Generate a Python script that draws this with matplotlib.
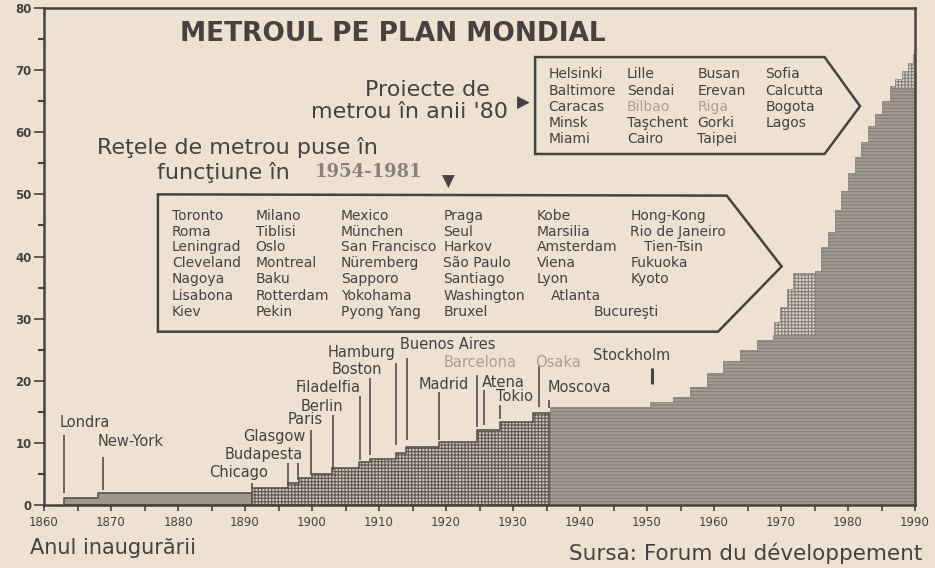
import numpy as np
import matplotlib
matplotlib.use('Agg')
import matplotlib.pyplot as plt
from matplotlib.patches import Polygon

# cumulative number of metro networks
band_years = [1863, 1868, 1891]
band_vals = [1.2, 2.0, 2.0]

early_years = [1891, 1896.4, 1898, 1900, 1903, 1907, 1908.6, 1912.6, 1914, 1919,
               1924.7, 1928, 1933, 1935.5]
early_vals = [2.7, 3.5, 4.4, 5.0, 6.0, 6.9, 7.4, 8.4, 9.4, 10.2,
              12.1, 13.4, 14.8, 14.8]

late_years = [1935.5, 1950.5, 1953.9, 1956.4, 1959, 1961.3, 1963.9, 1966.4, 1968.8,
              1975, 1976, 1977, 1978, 1979, 1980, 1981, 1982, 1983, 1984, 1985,
              1986.2, 1990]
late_vals = [15.7, 16.6, 17.4, 19.0, 21.3, 23.1, 25.0, 26.6, 27.4,
             37.6, 41.5, 44.0, 47.5, 50.5, 53.5, 56.0, 58.5, 61.0, 63.0, 65.0,
             66.9, 66.9]

# dotted parts above the grey area
plan_a_years = [1969, 1969.8, 1970.9, 1971.8, 1975]
plan_a_vals = [29.5, 31.9, 34.7, 37.4, 37.4]
plan_b_years = [1986.2, 1987, 1988, 1989, 1989.7, 1990]
plan_b_vals = [67.5, 68.5, 69.8, 71.2, 72.6, 72.6]

# labelled openings: name, year of pointer line, line bottom, line top
open_names = ['Londra', 'New-York', 'Chicago', 'Budapesta', 'Glasgow', 'Paris', 'Berlin',
              'Filadelfia', 'Boston', 'Hamburg', 'Buenos Aires', 'Madrid', 'Barcelona',
              'Atena', 'Tokio', 'Osaka', 'Moscova', 'Stockholm']
open_years = [1863, 1868.8, 1891.1, 1896.4, 1897.9, 1899.9, 1903.1, 1907.1, 1908.6,
              1912.6, 1914.2, 1919, 1924.7, 1925.6, 1928.1, 1933.9, 1935.4, 1950.8]
line_lo = [1.9, 2.4, 2.7, 3.2, 4.0, 4.8, 5.6, 7.3, 8.1, 9.7, 10.5, 10.5, 12.6, 12.9,
           13.9, 15.8, 15.6, 19.4]
line_hi = [11.3, 7.7, 3.5, 6.8, 6.8, 12.1, 14.5, 17.6, 20.5, 22.9, 23.7, 18.2, 21.0,
           18.5, 16.1, 22.3, 16.9, 22.1]

proj_cols = [['Helsinki', 'Baltimore', 'Caracas', 'Minsk', 'Miami'],
             ['Lille', 'Sendai', 'Bilbao', 'Taşchent', 'Cairo'],
             ['Busan', 'Erevan', 'Riga', 'Gorki', 'Taipei'],
             ['Sofia', 'Calcutta', 'Bogota', 'Lagos', '']]

open_cols = [['Toronto', 'Roma', 'Leningrad', 'Cleveland', 'Nagoya', 'Lisabona', 'Kiev'],
             ['Milano', 'Tiblisi', 'Oslo', 'Montreal', 'Baku', 'Rotterdam', 'Pekin'],
             ['Mexico', 'München', 'San Francisco', 'Nüremberg', 'Sapporo', 'Yokohama', 'Pyong Yang'],
             ['Praga', 'Seul', 'Harkov', 'São Paulo', 'Santiago', 'Washington', 'Bruxel'],
             ['Kobe', 'Marsilia', 'Amsterdam', 'Viena', 'Lyon', 'Atlanta', ''],
             ['Hong-Kong', 'Rio de Janeiro', 'Tien-Tsin', 'Fukuoka', 'Kyoto', '', 'Bucureşti']]

paper = '#ece1d2'
ink = '#48413c'
faded = '#a99d91'

plt.rcParams['font.family'] = ['DejaVu Sans']
plt.rcParams['hatch.linewidth'] = 0.8

fig = plt.figure(figsize=(9.35, 5.68), dpi=100, facecolor=paper)
ax = fig.add_axes([44/935, 63/568, 871/935, 497/568])
ax.set_facecolor(paper)
ax.set_xlim(1860, 1990)
ax.set_ylim(0, 80)

# filled areas
ax.fill_between(band_years, 0, band_vals, step='post', facecolor='#a0968c',
                edgecolor='#5a524c', lw=1.2)
ax.fill_between(early_years, 0, early_vals, step='post', facecolor='#cfc5b9',
                edgecolor='#5e5650', hatch='+++++', lw=1.2)
ax.fill_between(late_years, 0, late_vals, step='post', facecolor='#a39a91',
                edgecolor='#857c74', hatch='-----', lw=0.5)


def grey_top(yrs):
    idx = np.searchsorted(late_years, yrs, side='right') - 1
    return np.asarray(late_vals)[idx]


ax.fill_between(plan_a_years, grey_top(plan_a_years), plan_a_vals, step='post',
                facecolor='#ddd4c9', edgecolor='#857d75', hatch='+++++', lw=0.5)
ax.fill_between(plan_b_years, grey_top(plan_b_years), plan_b_vals, step='post',
                facecolor='#ddd4c9', edgecolor='#857d75', hatch='+++++', lw=0.5)

# pointer lines and labels for early networks
lab_pos = {
    'Londra': (1862.3, 13.2, 'left'), 'New-York': (1868.0, 10.2, 'left'),
    'Chicago': (1893.5, 5.3, 'right'), 'Budapesta': (1898.6, 8.1, 'right'),
    'Glasgow': (1899.0, 11.0, 'right'), 'Paris': (1901.6, 13.7, 'right'),
    'Berlin': (1904.7, 15.8, 'right'), 'Filadelfia': (1907.3, 18.9, 'right'),
    'Boston': (1910.5, 21.8, 'right'), 'Hamburg': (1912.5, 24.5, 'right'),
    'Buenos Aires': (1913.2, 25.8, 'left'), 'Madrid': (1915.9, 19.4, 'left'),
    'Barcelona': (1919.6, 22.9, 'left'), 'Atena': (1925.4, 19.7, 'left'),
    'Tokio': (1927.4, 17.4, 'left'), 'Osaka': (1933.3, 22.9, 'left'),
    'Moscova': (1935.1, 18.9, 'left'), 'Stockholm': (1942.0, 24.0, 'left'),
}
for name, yr, lo, hi in zip(open_names, open_years, line_lo, line_hi):
    lw = 2.2 if name == 'Stockholm' else 1.1
    ax.plot([yr, yr], [lo, hi], color=ink, lw=lw, solid_capstyle='butt')
    tx, ty, ha = lab_pos[name]
    col = faded if name in ('Barcelona', 'Osaka') else ink
    ax.text(tx, ty, name, ha=ha, va='center', fontsize=10.5, color=col)

# arrow boxes
box1 = Polygon([(1933.3, 72.1), (1976.5, 72.1), (1981.8, 64.2), (1976.5, 56.5),
                (1933.3, 56.5)], closed=True, facecolor='none', edgecolor=ink, lw=1.8)
box2 = Polygon([(1877.0, 50.0), (1961.9, 49.8), (1970.1, 38.4), (1960.6, 27.9),
                (1877.0, 27.9)], closed=True, facecolor='none', edgecolor=ink, lw=1.8)
ax.add_patch(box1)
ax.add_patch(box2)

proj_x = [1935.3, 1947.0, 1957.5, 1967.7]
proj_y = [69.4, 66.6, 64.0, 61.5, 58.9]
for cx, col in zip(proj_x, proj_cols):
    for cy, name in zip(proj_y, col):
        c = faded if name in ('Bilbao', 'Riga') else ink
        ax.text(cx, cy, name, ha='left', va='center', fontsize=10, color=c)

open_x = [1879.1, 1891.6, 1904.3, 1919.6, 1933.6, 1947.5]
open_y = [46.5, 44.0, 41.5, 39.0, 36.3, 33.7, 31.0]
shift = {'Tien-Tsin': 2.0, 'Bucureşti': -5.5, 'Atlanta': 2.0}
for cx, col in zip(open_x, open_cols):
    for cy, name in zip(open_y, col):
        ax.text(cx + shift.get(name, 0), cy, name, ha='left', va='center',
                fontsize=10, color=ink)

# headings
ax.text(1912.0, 75.8, 'METROUL PE PLAN MONDIAL', ha='center', va='center',
        fontsize=19, fontweight='heavy', color=ink)
ax.text(1926.6, 66.8, 'Proiecte de', ha='right', va='center', fontsize=16, color=ink)
ax.text(1929.3, 63.3, "metrou în anii '80", ha='right', va='center', fontsize=16, color=ink)
ax.text(1931.5, 64.7, '▶', ha='center', va='center', fontsize=12, color=ink)
ax.text(1867.9, 57.5, 'Reţele de metrou puse în', ha='left', va='center',
        fontsize=16, color=ink)
ax.text(1876.9, 53.6, 'funcţiune în', ha='left', va='center', fontsize=16, color=ink)
ax.text(1900.4, 53.6, '1954-1981', ha='left', va='center', fontsize=13,
        family='DejaVu Serif', fontweight='bold', color='#8a8079')
ax.text(1920.4, 52.0, '▼', ha='center', va='center', fontsize=12, color=ink)

# axes look
for s in ax.spines.values():
    s.set_color(ink)
    s.set_linewidth(1.8)
ax.set_xticks(np.arange(1860, 1991, 10))
ax.set_xticks(np.arange(1865, 1990, 10), minor=True)
ax.set_yticks(np.arange(0, 81, 10))
ax.set_yticks(np.arange(5, 80, 10), minor=True)
ax.tick_params(axis='x', which='both', direction='out', length=4, width=1.2,
               color=ink, labelsize=8.5, labelcolor=ink, pad=4)
ax.tick_params(axis='y', which='major', direction='out', length=7, width=1.2,
               color=ink, labelsize=8.5, labelcolor=ink, pad=2)
ax.tick_params(axis='y', which='minor', direction='out', length=4, width=1.5, color=ink)
for lab in ax.get_yticklabels():
    lab.set_fontweight('bold')

fig.text(30/935, 1 - 548/568, 'Anul inaugurării', ha='left', va='center',
         fontsize=15, color=ink)
fig.text(922/935, 1 - 553/568, 'Sursa: Forum du développement', ha='right',
         va='center', fontsize=15.5, color=ink)

fig.savefig('out.png', dpi=100, facecolor=paper)
